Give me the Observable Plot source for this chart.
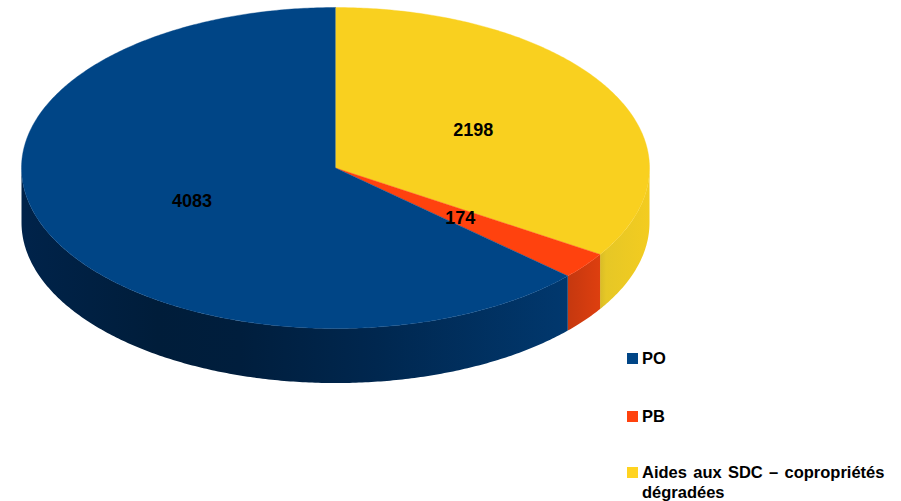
<!DOCTYPE html>
<html lang="fr">
<head>
<meta charset="utf-8">
<script src="https://cdn.jsdelivr.net/npm/d3@7"></script>
<script src="https://cdn.jsdelivr.net/npm/@observablehq/plot@0.6"></script>
<style>
  html, body { margin: 0; padding: 0; background: #fff; }
  #chart { position: relative; width: 901px; height: 501px; overflow: hidden; font-family: "Liberation Sans", Arial, sans-serif; }
  #chart svg { display: block; position: absolute; left: 0; top: 0; }
  .legend { position: absolute; left: 627px; top: 0; width: 270px; font-weight: bold; font-size: 16.5px; word-spacing: 1.7px; line-height: 19.5px; color: #000; }
  .item { position: absolute; left: 0; padding-left: 15px; width: 255px; }
  .sw { position: absolute; left: 0; top: 4px; width: 11px; height: 11px; }
</style>
</head>
<body>
<div id="chart"></div>
<script>
const categories = ["Aides aux SDC – copropriétés dégradées", "PB", "PO"];
const values = [2198, 174, 4083];
const topColors = ["#f9d01f", "#ff420e", "#004586"];
const wallStops = [
  [[0, "#d8bc28"], [0.12, "#e6c726"], [1, "#f3cc20"]],
  [[0, "#c5380f"], [1, "#de3f0f"]],
  [[0, "#00234a"], [0.25, "#001d3a"], [0.4, "#001e3d"], [0.65, "#00274f"], [1, "#01386e"]]
];
const legendOrder = ["PO", "PB", "Aides aux SDC – copropriétés dégradées"];
const legendColors = ["#004586", "#ff420e", "#ffd320"];
const legendTops = [349, 407, 463];

const depth = 0.34;
const total = d3.sum(values);
let acc = 0;
const slices = values.map((v, i) => {
  const a0 = acc / total * 2 * Math.PI;
  acc += v;
  return {i, value: v, a0, a1: acc / total * 2 * Math.PI};
});
const angles = (a, b) => {
  const n = Math.max(2, Math.ceil((b - a) / 0.01));
  return d3.range(n + 1).map(k => a + (b - a) * k / n);
};
const topPts = s => [{x: 0, y: 0}, ...angles(s.a0, s.a1).map(t => ({x: Math.sin(t), y: Math.cos(t)}))];
const wallPts = s => {
  const a = Math.max(s.a0, Math.PI / 2), b = Math.min(s.a1, 3 * Math.PI / 2);
  if (b <= a) return [];
  const ts = angles(a, b);
  return [
    ...ts.map(t => ({x: Math.sin(t), y: Math.cos(t)})),
    ...ts.slice().reverse().map(t => ({x: Math.sin(t), y: Math.cos(t) - depth}))
  ];
};
const labels = slices.map(s => {
  const m = (s.a0 + s.a1) / 2;
  return {x: 0.5 * Math.sin(m), y: 0.5 * Math.cos(m), text: String(s.value)};
});

const gradients = () => {
  const defs = d3.create("svg:defs");
  slices.forEach(s => {
    const g = defs.append("linearGradient").attr("id", "wall" + s.i);
    wallStops[s.i].forEach(([o, c]) => g.append("stop").attr("offset", o).attr("stop-color", c));
  });
  return defs.node();
};

const plot = Plot.plot({
  width: 901,
  height: 501,
  margin: 0,
  x: {axis: null, domain: [-1, 1], range: [21, 649]},
  y: {axis: null, domain: [-1, 1], range: [328, 7]},
  style: {background: "transparent"},
  marks: [
    gradients,
    ...slices.map(s => Plot.line(wallPts(s), {x: "x", y: "y", fill: `url(#wall${s.i})`, stroke: "none", curve: "linear"})),
    ...slices.map(s => Plot.line(topPts(s), {x: "x", y: "y", fill: topColors[s.i], stroke: topColors[s.i], strokeWidth: 0.4, curve: "linear"})),
    Plot.text(labels, {x: "x", y: "y", dy: 1, text: "text", fontSize: 18, fontWeight: "bold", fontFamily: "Liberation Sans", fill: "#000"})
  ]
});
const chart = document.getElementById("chart");
chart.appendChild(plot);

const legend = document.createElement("div");
legend.className = "legend";
legendOrder.forEach((name, i) => {
  const item = document.createElement("div");
  item.className = "item";
  item.style.top = legendTops[i] + "px";
  const sw = document.createElement("span");
  sw.className = "sw";
  sw.style.background = legendColors[i];
  item.appendChild(sw);
  item.appendChild(document.createTextNode(name));
  legend.appendChild(item);
});
chart.appendChild(legend);
</script>
</body>
</html>
